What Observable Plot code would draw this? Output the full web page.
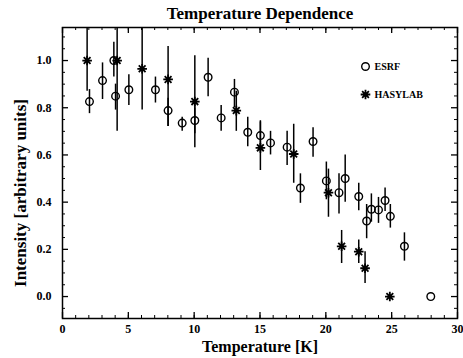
<!DOCTYPE html>
<html>
<head>
<meta charset="utf-8">
<script src="https://cdn.jsdelivr.net/npm/d3@7"></script>
<script src="https://cdn.jsdelivr.net/npm/@observablehq/plot@0.6"></script>
<style>
  html, body { margin: 0; padding: 0; background: #fff; }
  svg { display: block; }
  #chart svg text, #chart svg g { font-family: 'Liberation Serif', 'DejaVu Serif', serif !important; font-weight: bold !important; }
</style>
</head>
<body>
<div id="chart"></div>
<script>
// ---- data ----
const esrfT  = [2.05, 3.04, 3.9, 4.03, 5.04, 7.06, 8.02, 9.09, 10.05, 11.06, 12.05, 13.06, 14.07, 15.03, 15.8, 17.06, 18.07, 19.03, 20.04, 21.0, 21.47, 22.5, 23.1, 23.46, 24.0, 24.5, 24.9, 25.97, 27.97];
const esrfI  = [0.826, 0.915, 1.0, 0.849, 0.876, 0.876, 0.788, 0.735, 0.746, 0.929, 0.757, 0.866, 0.696, 0.682, 0.651, 0.633, 0.46, 0.657, 0.49, 0.44, 0.50, 0.424, 0.32, 0.37, 0.367, 0.407, 0.34, 0.213, 0.0];
const esrfLo = [0.775, 0.835, 0.93, 0.79, 0.81, 0.82, 0.72, 0.70, 0.69, 0.847, 0.70, 0.80, 0.635, 0.62, 0.60, 0.555, 0.395, 0.59, 0.41, 0.35, 0.40, 0.364, 0.245, 0.315, 0.31, 0.36, 0.29, 0.15, null];
const esrfHi = [0.877, 0.99, 1.077, 0.90, 0.94, 0.93, 0.84, 0.76, 0.80, 1.01, 0.81, 0.92, 0.76, 0.745, 0.70, 0.70, 0.52, 0.715, 0.57, 0.52, 0.60, 0.48, 0.39, 0.435, 0.42, 0.46, 0.39, 0.27, null];

const hasyT  = [1.87, 4.15, 6.05, 8.02, 10.05, 13.2, 15.03, 17.56, 20.2, 21.2, 22.5, 22.98, 24.86];
const hasyI  = [1.0, 1.0, 0.965, 0.92, 0.826, 0.788, 0.63, 0.604, 0.44, 0.213, 0.19, 0.12, 0.0];
const hasyLo = [0.87, 0.70, 0.79, 0.72, 0.63, 0.70, 0.534, 0.48, 0.336, 0.14, 0.14, 0.055, null];
const hasyHi = [1.2, 1.2, 1.2, 1.06, 1.02, 0.87, 0.74, 0.73, 0.54, 0.28, 0.24, 0.19, null];

const seriesNames = ["ESRF", "HASYLAB"];
const xMajor = [0, 5, 10, 15, 20, 25, 30];
const xMinor = d3.range(1, 30);
const yMajor = [0, 0.2, 0.4, 0.6, 0.8, 1.0];
const yMinor = [-0.05, 0.05, 0.1, 0.15, 0.25, 0.3, 0.35, 0.45, 0.5, 0.55, 0.65, 0.7, 0.75, 0.85, 0.9, 0.95, 1.05, 1.1];
const titleText = "Temperature Dependence";
const xLabel = "Temperature [K]";
const yLabel = "Intensity [arbitrary units]";

// ---- build tables ----
const esrf = esrfT.map((t, i) => ({t, v: esrfI[i], lo: esrfLo[i], hi: esrfHi[i]}));
const hasy = hasyT.map((t, i) => ({t, v: hasyI[i], lo: hasyLo[i], hi: hasyHi[i]}));

// 8-pointed asterisk symbol
const star8 = {
  draw(context, size) {
    const r = Math.sqrt(size / Math.PI);
    const a = r * Math.SQRT1_2;
    context.moveTo(-r, 0); context.lineTo(r, 0);
    context.moveTo(0, -r); context.lineTo(0, r);
    context.moveTo(-a, -a); context.lineTo(a, a);
    context.moveTo(-a, a); context.lineTo(a, -a);
  }
};

const W = 463, H = 358, mL = 62, mR = 6, mT = 27, mB = 40;
const fw = W - mL - mR, fh = H - mT - mB;
const font = "'Liberation Serif', 'DejaVu Serif', serif";

const chart = Plot.plot({
  width: W, height: H,
  marginLeft: mL, marginRight: mR, marginTop: mT, marginBottom: mB,
  style: {fontFamily: font, color: "#000", background: "#fff"},
  x: {domain: [0, 30]},
  y: {domain: [-0.093, 1.14]},
  marks: [
    // tick labels
    Plot.axisX({ticks: xMajor, tickSize: 0, tickPadding: 6, fontSize: 12, fontWeight: "bold", label: null, tickFormat: d3.format("d")}),
    Plot.axisY({ticks: yMajor, tickSize: 0, tickPadding: 11, fontSize: 12, fontWeight: "bold", label: null, tickFormat: d3.format(".1f")}),
    // inward ticks
    Plot.ruleX(xMinor, {x: d => d, insetTop: fh - 3, strokeWidth: 1}),
    Plot.ruleX(xMinor, {x: d => d, insetBottom: fh - 3, strokeWidth: 1}),
    Plot.ruleX(xMajor, {x: d => d, insetTop: fh - 6, strokeWidth: 1.3}),
    Plot.ruleX(xMajor, {x: d => d, insetBottom: fh - 6, strokeWidth: 1.3}),
    Plot.ruleY(yMinor, {y: d => d, insetRight: fw - 3, strokeWidth: 1}),
    Plot.ruleY(yMinor, {y: d => d, insetLeft: fw - 3, strokeWidth: 1}),
    Plot.ruleY(yMajor, {y: d => d, insetRight: fw - 6, strokeWidth: 1.3}),
    Plot.ruleY(yMajor, {y: d => d, insetLeft: fw - 6, strokeWidth: 1.3}),
    // error bars
    Plot.ruleX(esrf.filter(d => d.lo != null), {x: "t", y1: "lo", y2: "hi", stroke: "#000", strokeWidth: 1.5, clip: true}),
    Plot.ruleX(hasy.filter(d => d.lo != null), {x: "t", y1: "lo", y2: "hi", stroke: "#000", strokeWidth: 1.5, clip: true}),
    // points
    Plot.dot(esrf, {x: "t", y: "v", r: 3.8, stroke: "#000", fill: "none", strokeWidth: 1.4}),
    Plot.dot(hasy, {x: "t", y: "v", r: 4.8, symbol: star8, stroke: "#000", fill: "none", strokeWidth: 1.8}),
    // legend
    Plot.dot([seriesNames[0]], {frameAnchor: "top-right", dx: -92, dy: 39, r: 3.8, stroke: "#000", fill: "none", strokeWidth: 1.4}),
    Plot.text([seriesNames[0]], {frameAnchor: "top-right", dx: -83, dy: 39, text: d => d, textAnchor: "start", lineAnchor: "middle", fontSize: 10, fontWeight: "bold"}),
    Plot.dot([seriesNames[1]], {frameAnchor: "top-right", dx: -92, dy: 67, r: 4.8, symbol: star8, stroke: "#000", fill: "none", strokeWidth: 1.8}),
    Plot.text([seriesNames[1]], {frameAnchor: "top-right", dx: -83, dy: 67, text: d => d, textAnchor: "start", lineAnchor: "middle", fontSize: 10, fontWeight: "bold"}),
    // frame
    Plot.frame({stroke: "#000", strokeWidth: 1.5}),
    // titles
    Plot.text([titleText], {frameAnchor: "top", dy: -14, text: d => d, textAnchor: "middle", lineAnchor: "middle", fontSize: 17, fontWeight: "bold"}),
    Plot.text([xLabel], {frameAnchor: "bottom", dy: 28, text: d => d, textAnchor: "middle", lineAnchor: "middle", fontSize: 16, fontWeight: "bold"}),
    Plot.text([yLabel], {frameAnchor: "left", dx: -42, dy: 20, rotate: -90, text: d => d, textAnchor: "middle", lineAnchor: "middle", fontSize: 17, fontWeight: "bold"})
  ]
});
document.getElementById("chart").appendChild(chart);
</script>
</body>
</html>
